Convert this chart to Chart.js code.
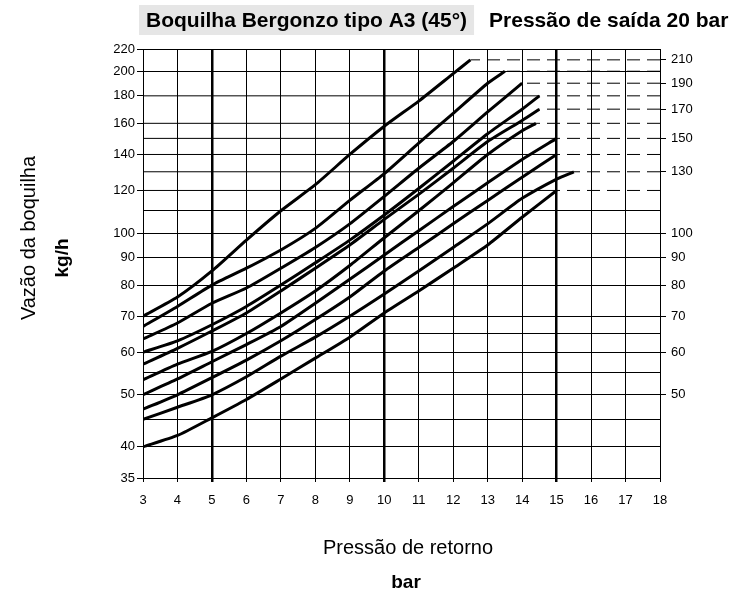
<!DOCTYPE html>
<html>
<head>
<meta charset="utf-8">
<script src="https://cdn.jsdelivr.net/npm/chart.js@4.4.0/dist/chart.umd.min.js"></script>
<style>
  html, body { margin: 0; padding: 0; background: #fff; }
  canvas { display: block; }
</style>
</head>
<body>
<canvas id="nozzle-chart" width="739" height="596"></canvas>
<script>
// return pressure (bar) where the curves were read
const pressure = [3, 4, 5, 6, 7, 8, 9, 10, 11, 12, 13, 14, 15];

// nozzle flow (kg/h), one list per curve, starting at 3 bar
const curve1 = [70, 76, 85, 97, 110, 123, 140, 158, 176, 198];
const curve2 = [67, 73, 80, 86, 93, 102, 115, 129, 147, 167, 190];
const curve3 = [63.5, 68, 74, 79, 86, 94, 104, 117, 132, 148, 168];
const curve4 = [60, 63, 67.5, 73, 80, 88, 97, 108, 121, 136, 153, 170];
const curve5 = [57, 61, 65.7, 71, 78, 86, 95, 106, 118, 132, 148, 162];
const curve6 = [53.3, 57, 60.2, 65, 71, 78, 87, 98, 110, 124, 140, 155];
const curve7 = [50, 53.5, 57.6, 62, 67, 74, 82, 91, 101, 112, 124, 137];
const curve8 = [47, 50, 53.8, 58, 63, 69, 76, 85, 94, 104, 115, 127];
const curve9 = [45, 47.4, 50, 54, 59, 64, 70, 77, 85, 94, 104, 116, 126];
const curve10 = [40, 42, 45.3, 49, 53.5, 58.5, 64, 71, 78, 86, 95, 107];

// end point of each curve
const endX = [12.5, 13.5, 14, 14.5, 14.5, 14.4, 15, 15, 15.5, 15];
const endY = [210, 200, 190, 180, 170, 160, 150, 140, 130, 120];

// axes
const gridY = [35, 40, 45, 50, 55, 60, 65, 70, 80, 90, 100, 110, 120, 130, 140, 150, 160, 180, 200, 220];
const leftLabels = [35, 40, 50, 60, 70, 80, 90, 100, 120, 140, 160, 180, 200, 220];
const rightLabels = [50, 60, 70, 80, 90, 100, 130, 150, 170, 190, 210];
const dashedGrid = [120, 130, 140, 150, 160, 180]; // grid lines that go dashed after the curve end
const thickX = [5, 10, 15];

const tickFont = { family: '"Liberation Sans", Arial, sans-serif', size: 13 };

const curves = [curve1, curve2, curve3, curve4, curve5, curve6, curve7, curve8, curve9, curve10];
const datasets = [];

// solid part of the grid lines that become dashed
dashedGrid.forEach(v => {
  const i = endY.indexOf(v);
  datasets.push({ data: [{ x: 3, y: v }, { x: endX[i], y: v }], borderColor: '#000', borderWidth: 1 });
});
// dashed leader from each curve end to the right axis
endY.forEach((v, i) => {
  datasets.push({ data: [{ x: 18, y: v }, { x: endX[i], y: v }], borderColor: '#000', borderWidth: 1, borderDash: [13, 7] });
});
curves.forEach((vals, i) => {
  const pts = vals.map((v, j) => ({ x: pressure[j], y: v }));
  pts.push({ x: endX[i], y: endY[i] });
  datasets.push({ data: pts, borderColor: '#000', borderWidth: 3, tension: 0.2 });
});

const titles = {
  id: 'titles',
  afterDraw(chart) {
    const c = chart.ctx;
    c.save();
    c.textBaseline = 'middle';
    c.font = 'bold 21px "Liberation Sans", Arial, sans-serif';
    const t1 = 'Boquilha Bergonzo tipo A3 (45°)';
    const w1 = c.measureText(t1).width;
    c.fillStyle = '#e6e6e6';
    c.fillRect(139, 5, w1 + 14, 30);
    c.fillStyle = '#000';
    c.textAlign = 'left';
    c.fillText(t1, 146, 21);
    c.fillText('Pressão de saída 20 bar', 146 + w1 + 22, 21);

    c.textAlign = 'center';
    c.font = '20px "Liberation Sans", Arial, sans-serif';
    c.fillText('Pressão de retorno', 408, 548);
    c.font = 'bold 19px "Liberation Sans", Arial, sans-serif';
    c.fillText('bar', 406, 583);

    c.translate(29, 238);
    c.rotate(-Math.PI / 2);
    c.font = '20px "Liberation Sans", Arial, sans-serif';
    c.fillText('Vazão da boquilha', 0, 0);
    c.rotate(Math.PI / 2);
    c.translate(34, 20);
    c.rotate(-Math.PI / 2);
    c.font = 'bold 19px "Liberation Sans", Arial, sans-serif';
    c.fillText('kg/h', 0, 0);
    c.restore();
  }
};

new Chart(document.getElementById('nozzle-chart').getContext('2d'), {
  type: 'line',
  data: { datasets: datasets },
  options: {
    responsive: false,
    animation: false,
    devicePixelRatio: 1,
    layout: { padding: { top: 49 } },
    elements: { point: { radius: 0 } },
    plugins: { legend: { display: false }, tooltip: { enabled: false } },
    scales: {
      x: {
        type: 'linear',
        min: 3,
        max: 18,
        ticks: { stepSize: 1, color: '#000', font: tickFont, padding: 11 },
        grid: {
          color: '#000',
          lineWidth: c => thickX.includes(c.tick.value) ? 2.5 : 1,
          tickLength: 4
        },
        border: { color: '#000' },
        afterFit: s => { s.height = 118; }
      },
      y: {
        type: 'logarithmic',
        position: 'left',
        min: 35,
        max: 220,
        afterBuildTicks: s => { s.ticks = gridY.map(v => ({ value: v })); },
        ticks: {
          autoSkip: false,
          color: '#000',
          font: tickFont,
          padding: 2,
          callback: v => leftLabels.includes(v) ? String(v) : ''
        },
        grid: {
          color: c => dashedGrid.includes(c.tick.value) ? 'rgba(0,0,0,0)' : '#000',
          tickColor: c => leftLabels.includes(c.tick.value) ? '#000' : 'rgba(0,0,0,0)',
          tickLength: 6
        },
        border: { color: '#000' },
        afterFit: s => { s.width = 143; }
      },
      y2: {
        type: 'logarithmic',
        position: 'right',
        min: 35,
        max: 220,
        afterBuildTicks: s => { s.ticks = rightLabels.map(v => ({ value: v })); },
        ticks: { autoSkip: false, color: '#000', font: tickFont, padding: 5, callback: v => String(v) },
        grid: { drawOnChartArea: false, color: '#000', tickLength: 6 },
        border: { color: '#000' },
        afterFit: s => { s.width = 79; }
      }
    }
  },
  plugins: [titles]
});
</script>
</body>
</html>
